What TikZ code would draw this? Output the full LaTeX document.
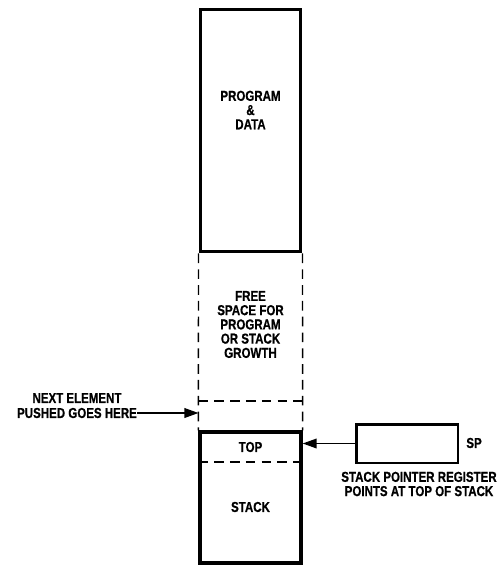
\documentclass[tikz,border=0pt]{standalone}
\usepackage{fontspec}
\setsansfont{Liberation Sans}[FakeStretch=0.8, FakeBold=0.6]
\usetikzlibrary{arrows.meta}

\begin{document}
\begin{tikzpicture}[
        x=0.02cm, y=-0.02cm,
        font=\sffamily\bfseries\fontsize{8.2}{8.1}\selectfont,
        block/.style={draw=black, line width=1.7pt, minimum width=2.02cm, inner sep=0pt},
        dashline/.style={line width=0.8pt, dash pattern=on 5.5pt off 3.5pt},
        txt/.style={align=center, inner sep=0pt},
        pointer/.style={line width=0.9pt, -{Triangle[length=8pt, width=5.5pt]}},
    ]
    \useasboundingbox (0,0) rectangle (500,565);

    %====================== MEMÓRIA (coluna) ======================
    \node[block, minimum height=4.86cm] (prog) at (250.5, 130.5) {};
    \node[txt] (prog-txt) at (250.5, 110) {PROGRAM\\\&\\DATA};

    \node[txt] (free-txt) at (250.5, 324.5) {FREE\\SPACE FOR\\PROGRAM\\OR STACK\\GROWTH};

    \node[block, line width=1.9pt, minimum height=2.62cm] (stk) at (250.5, 497.5) {};
    \node[txt] (top-txt) at (250.5, 447) {TOP};
    \node[txt] (stk-txt) at (250.5, 507) {STACK};

    % lados tracejados e divisões
    \draw[dashline] (prog.south west) -- (stk.north west);
    \draw[dashline] (prog.south east) -- (stk.north east);
    \draw[dashline] (prog.west |- 0,401) -- (prog.east |- 0,401);
    \draw[dashline] (stk.west |- 0,462) -- (stk.east |- 0,462);

    %====================== PRÓXIMO ELEMENTO ======================
    \node[txt] (next) at (77, 398) {NEXT ELEMENT};
    \node[txt] (push) at (77, 413) {PUSHED GOES HERE};
    \draw[pointer] (push.east) -- (push.east -| prog.west);

    %====================== REGISTRADOR SP ======================
    \node[block, minimum width=2.04cm, minimum height=0.78cm] (sp) at (407, 443.5) {};
    \node[txt, anchor=west] (sp-txt) at (466, 443) {SP};
    \node[txt] (sp-note) at (419, 484) {STACK POINTER REGISTER\\POINTS AT TOP OF STACK};
    \draw[pointer] (sp.west) -- (sp.west -| stk.east);

\end{tikzpicture}
\end{document}
